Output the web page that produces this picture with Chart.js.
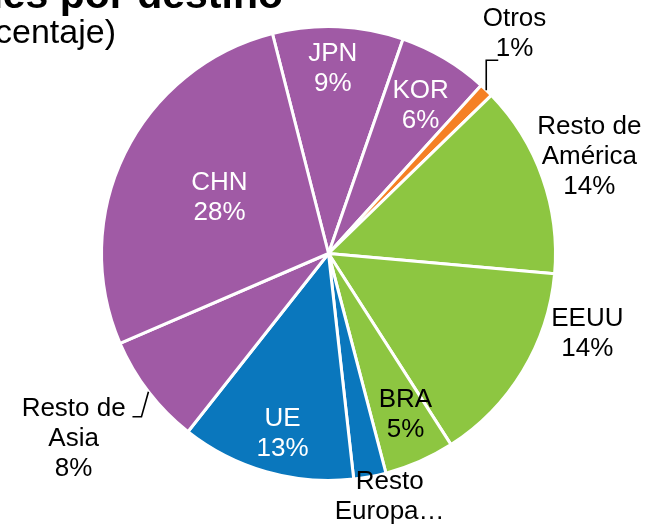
<!DOCTYPE html>
<html><head><meta charset="utf-8">
<script src="https://cdn.jsdelivr.net/npm/chart.js@4"></script>
<style>html,body{margin:0;padding:0;background:#fff}#wrap{width:659px;height:527px;position:relative}</style>
</head><body><div id="wrap"><canvas id="c"></canvas></div>
<script>
// ---- data ----
const categories = ["JPN","KOR","Otros","Resto de América","EEUU","BRA","Resto Europa","UE","Resto de Asia","CHN"];
const shares = [9.3, 6.4, 1.0, 13.7, 14.5, 5.0, 2.3, 12.4, 7.9, 27.5];
const shareLabels = ["9%","6%","1%","14%","14%","5%","2%","13%","8%","28%"];
const titleText = "Exportaciones por destino";
const subtitleText = "(en porcentaje)";

// ---- style ----
const PURPLE = "#A05AA5", ORANGE = "#F58025", GREEN = "#8DC641", BLUE = "#0A77BD";
const sliceColors = [PURPLE, PURPLE, ORANGE, GREEN, GREEN, GREEN, BLUE, BLUE, PURPLE, PURPLE];
// label placement: radius factor, angle offset (deg) from slice mid-angle, colour, line text
const labelStyle = [
  {r:0.815, da:-1.1, color:"#fff", lines:(c,p)=>[c,p]},
  {r:0.768, da:1.2,  color:"#fff", lines:(c,p)=>[c,p]},
  {r:1.269, da:-3.8, color:"#000", lines:(c,p)=>[c,p], leader:[[0,-30],[12,-30]]},
  {r:1.226, da:-0.9, color:"#000", lines:(c,p)=>["Resto de","América",p]},
  {r:1.194, da:-14.0,color:"#000", lines:(c,p)=>[c,p]},
  {r:0.786, da:-1.9, color:"#000", lines:(c,p)=>[c,p]},
  {r:1.104, da:-3.6, color:"#000", lines:(c,p)=>["Resto","Europa…"]},
  {r:0.818, da:-1.6, color:"#fff", lines:(c,p)=>[c,p]},
  {r:1.388, da:1.5,  color:"#000", lines:(c,p)=>["Resto de","Asia",p], leader:[[-7,25],[-16,25]]},
  {r:0.54,  da:1.0,  color:"#fff", lines:(c,p)=>[c,p]}
];
const FONT = '26px "Liberation Sans", Arial, sans-serif';

const labelPlugin = {
  id:'sliceLabels',
  afterDatasetsDraw(chart){
    const ctx = chart.ctx;
    const meta = chart.getDatasetMeta(0);
    ctx.save();
    meta.data.forEach((arc,i)=>{
      const p = arc.getProps(['x','y','startAngle','endAngle','outerRadius'], true);
      const st = labelStyle[i];
      const mid = (p.startAngle+p.endAngle)/2;
      if (st.leader){
        const ex = p.x + Math.cos(mid)*p.outerRadius, ey = p.y + Math.sin(mid)*p.outerRadius;
        ctx.beginPath(); ctx.moveTo(ex,ey);
        st.leader.forEach(([dx,dy])=>ctx.lineTo(ex+dx,ey+dy));
        ctx.strokeStyle="#000"; ctx.lineWidth=1.6; ctx.stroke();
      }
      const a = mid + st.da*Math.PI/180;
      const lx = p.x + Math.cos(a)*p.outerRadius*st.r;
      const ly = p.y + Math.sin(a)*p.outerRadius*st.r;
      const lines = st.lines(categories[i], shareLabels[i]);
      ctx.font = FONT; ctx.fillStyle = st.color;
      ctx.textAlign='center'; ctx.textBaseline='middle';
      const lh = 30, y0 = ly - (lines.length-1)*lh/2;
      lines.forEach((t,k)=>ctx.fillText(t, lx, y0+k*lh));
    });
    ctx.restore();
  }
};
const titlePlugin = {
  id:'cutTitle',
  afterDraw(chart){
    const ctx = chart.ctx;
    ctx.save();
    ctx.fillStyle="#000"; ctx.textAlign='right'; ctx.textBaseline='alphabetic';
    ctx.font='bold 41px "Liberation Sans", Arial, sans-serif';
    ctx.fillText(titleText, 283, 8);
    ctx.font='34px "Liberation Sans", Arial, sans-serif';
    ctx.fillText(subtitleText, 116, 43);
    ctx.restore();
  }
};

new Chart(document.getElementById('c'), {
  type:'pie',
  data:{ labels: categories, datasets:[{ data: shares, backgroundColor: sliceColors, borderColor:'#fff', borderWidth:3 }] },
  options:{
    responsive:true, maintainAspectRatio:false, animation:false,
    rotation:-14.3,
    layout:{ padding:{ top:25, bottom:45, left:100, right:102 } },
    plugins:{ legend:{display:false}, tooltip:{enabled:false}, title:{display:false} }
  },
  plugins:[labelPlugin, titlePlugin]
});
</script></body></html>
